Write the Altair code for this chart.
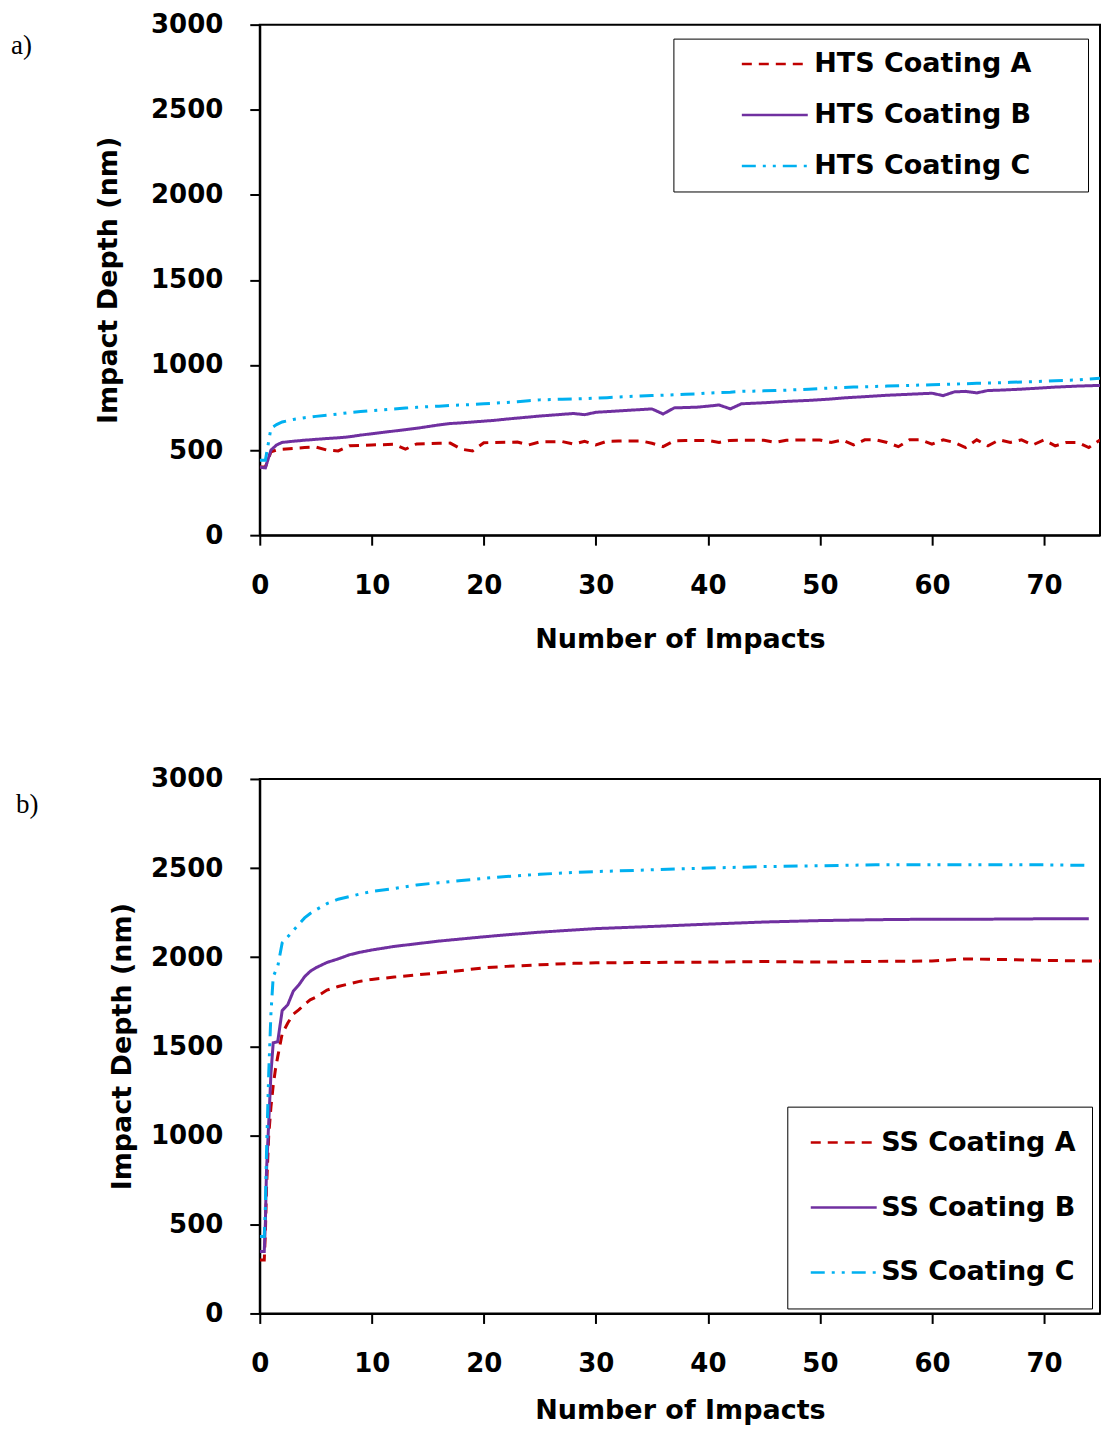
import altair as alt
import pandas as pd

FONT = "DejaVu Sans"

# ---------------- Panel a (HTS) ----------------
X_A = [0, 0.5, 1, 1.5, 2,
       3, 4, 5, 6, 7, 8, 9, 10, 11, 12,
       13, 14, 15, 16, 17, 18, 19, 20, 21, 22,
       23, 24, 25, 26, 27, 28, 29, 30, 31, 32,
       33, 34, 35, 36, 37, 38, 39, 40, 41, 42,
       43, 44, 45, 46, 47, 48, 49, 50, 51, 52,
       53, 54, 55, 56, 57, 58, 59, 60, 61, 62,
       63, 64, 65, 66, 67, 68, 69, 70, 71, 72,
       73, 74, 75]

HTS_A = [400, 400, 490, 500, 505,
         510, 515, 518, 500, 495, 525, 528, 530, 532, 534,
         505, 536, 538, 540, 541, 505, 495, 543, 545, 546,
         547, 530, 548, 549, 550, 535, 551, 530, 552, 553,
         554, 554, 540, 520, 555, 556, 556, 557, 545, 557,
         558, 558, 558, 545, 558, 559, 559, 559, 545, 559,
         530, 560, 560, 545, 520, 560, 560, 535, 560, 545,
         515, 560, 525, 560, 545, 560, 530, 560, 525, 545,
         545, 515, 560]

HTS_B = [400, 395, 500, 530, 545,
         552, 558, 563, 568, 572, 578, 588, 596, 604, 612,
         620, 628, 638, 648, 656, 660, 665, 670, 675, 682,
         688, 694, 700, 705, 710, 715, 708, 722, 726, 730,
         734, 738, 742, 712, 748, 750, 752, 758, 765, 742,
         772, 775, 778, 782, 786, 789, 792, 796, 800, 806,
         810, 814, 818, 822, 825, 828, 831, 834, 820, 842,
         845, 836, 850, 852, 855, 858, 862, 866, 870, 873,
         876, 878, 880]

HTS_C = [440, 440, 628, 650, 665,
         680, 690, 698, 705, 712, 720, 726, 732, 737, 742,
         747, 751, 755, 758, 762, 765, 768, 772, 776, 780,
         784, 790, 795, 797, 799, 800, 802, 805, 808, 812,
         815, 818, 820, 822, 825, 828, 830, 835, 838, 840,
         845, 846, 848, 850, 852, 855, 858, 862, 865, 868,
         870, 872, 874, 876, 878, 880, 882, 884, 886, 888,
         890, 892, 894, 896, 898, 900, 902, 905, 908, 910,
         912, 918, 922]

NAMES_A = ["HTS Coating A", "HTS Coating B", "HTS Coating C"]

# ---------------- Panel b (SS) ----------------
X_B = [0, 0.4, 0.5, 0.6, 0.8, 1.0, 1.2, 1.4, 1.6, 2.0,
       2.5, 3.0, 3.5, 4.0, 4.5, 5, 6, 7, 8, 9,
       10, 12, 14, 16, 18, 20, 22, 25, 28, 30,
       35, 40, 45, 50, 55, 60, 63, 65, 70, 74,
       75]

SS_A = [300, 300, 450, 700, 1000, 1160, 1280, 1370, 1440, 1570,
        1630, 1680, 1705, 1735, 1760, 1775, 1815, 1835, 1850, 1865,
        1875, 1888, 1900, 1912, 1925, 1940, 1948, 1957, 1965, 1968,
        1970, 1972, 1975, 1972, 1976, 1978, 1990, 1988, 1982, 1978,
        1978]

SS_B = [348, 348, 510, 800, 1071, 1350, 1519, 1522, 1525, 1700,
        1733, 1810, 1845, 1890, 1920, 1940, 1970, 1990, 2013, 2028,
        2040, 2060, 2075, 2090, 2102, 2114, 2125, 2140, 2152, 2160,
        2172, 2185, 2197, 2205, 2210, 2213, 2213, 2213, 2215, 2215,
        None]

SS_C = [432, 432, 600, 900, 1351, 1688, 1890, 1920, 1946, 2080,
        2114, 2150, 2185, 2220, 2245, 2265, 2300, 2325, 2340, 2355,
        2368, 2385, 2405, 2418, 2430, 2442, 2452, 2465, 2475, 2480,
        2490, 2500, 2508, 2513, 2518, 2518, 2518, 2518, 2518, 2515,
        None]

NAMES_B = ["SS Coating A", "SS Coating B", "SS Coating C"]

COLORS = ["#C00000", "#7030A0", "#00B0F0"]
DASHES = [[10, 7], [1, 0], [14, 7, 3, 7, 3, 7]]

PLOT_W = 841


def long_df(xs, series, names):
    rows = []
    for name, vals in zip(names, series):
        for i, (x, v) in enumerate(zip(xs, vals)):
            if v is not None:
                rows.append({"x": x, "y": v, "series": name, "order": i})
    return pd.DataFrame(rows)


def make_legend(lx, ly, pad, rowpad, symoff, laboff, cliph, right_pad):
    kw = dict(
        orient="none", legendX=lx, legendY=ly,
        strokeColor="black", fillColor="white", padding=pad,
        rowPadding=rowpad, symbolType="stroke", symbolSize=4356,
        symbolStrokeWidth=2.5, symbolOffset=symoff, clipHeight=cliph,
        labelFont=FONT, labelFontSize=27, labelFontWeight="bold",
        labelColor="black", labelOffset=laboff, labelLimit=0,
    )
    if right_pad > 0:
        kw.update(title="\u00a0", titleOrient="right", titlePadding=right_pad,
                  titleFontSize=4, titleColor="white")
    else:
        kw.update(title=None)
    return alt.Legend(**kw)


def panel(df, names, tag, height, leg, ytitlepad, xtitlepad, tagx, tagy):
    lines = alt.Chart(df).mark_line(strokeWidth=3, clip=True).encode(
        x=alt.X("x:Q", scale=alt.Scale(domain=[0, 75], nice=False),
                axis=alt.Axis(title="Number of Impacts", values=[0, 10, 20, 30, 40, 50, 60, 70],
                              format="d", titlePadding=xtitlepad, labelFlush=False)),
        y=alt.Y("y:Q", scale=alt.Scale(domain=[0, 3000]),
                axis=alt.Axis(title="Impact Depth (nm)", values=[0, 500, 1000, 1500, 2000, 2500, 3000],
                              format="d", titlePadding=ytitlepad, labelFlush=False)),
        color=alt.Color("series:N", scale=alt.Scale(domain=names, range=COLORS), legend=leg),
        strokeDash=alt.StrokeDash("series:N", scale=alt.Scale(domain=names, range=DASHES), legend=leg),
        order="order:Q",
    )
    label = alt.Chart(pd.DataFrame({"tag": [tag]})).mark_text(
        font="Liberation Serif", fontSize=27, align="left", baseline="middle", color="black"
    ).encode(text="tag:N", x=alt.value(tagx), y=alt.value(tagy))
    return alt.layer(lines, label).properties(width=PLOT_W, height=height)


df_a = long_df(X_A, [HTS_A, HTS_B, HTS_C], NAMES_A)
df_b = long_df(X_B, [SS_A, SS_B, SS_C], NAMES_B)

leg_a = make_legend(414, 14, 12, 23, 55, 5, 27, 45)
leg_b = make_legend(528, 328, 16, 25, 6, 3, 40, 0)

pa = panel(df_a, NAMES_A, "a)", 511, leg_a, 28, 28, -249, 21)
pb = panel(df_b, NAMES_B, "b)", 535, leg_b, 14, 21, -244, 26)

chart = alt.vconcat(pa, pb, spacing=112).resolve_scale(
    color="independent", strokeDash="independent"
).configure(
    padding={"left": 2, "top": 2, "right": 0, "bottom": 0},
    font=FONT,
).configure_view(
    stroke="black", strokeWidth=2
).configure_axis(
    grid=False, domainColor="black", domainWidth=2, tickColor="black", tickWidth=2,
    tickSize=10, labelFont=FONT, labelFontSize=26, labelFontWeight="bold", labelColor="black",
    titleFont=FONT, titleFontSize=27, titleFontWeight="bold", titleColor="black",
    labelPadding=27,
)

chart.save("out.html", embed_options={"renderer": "svg", "actions": False})
